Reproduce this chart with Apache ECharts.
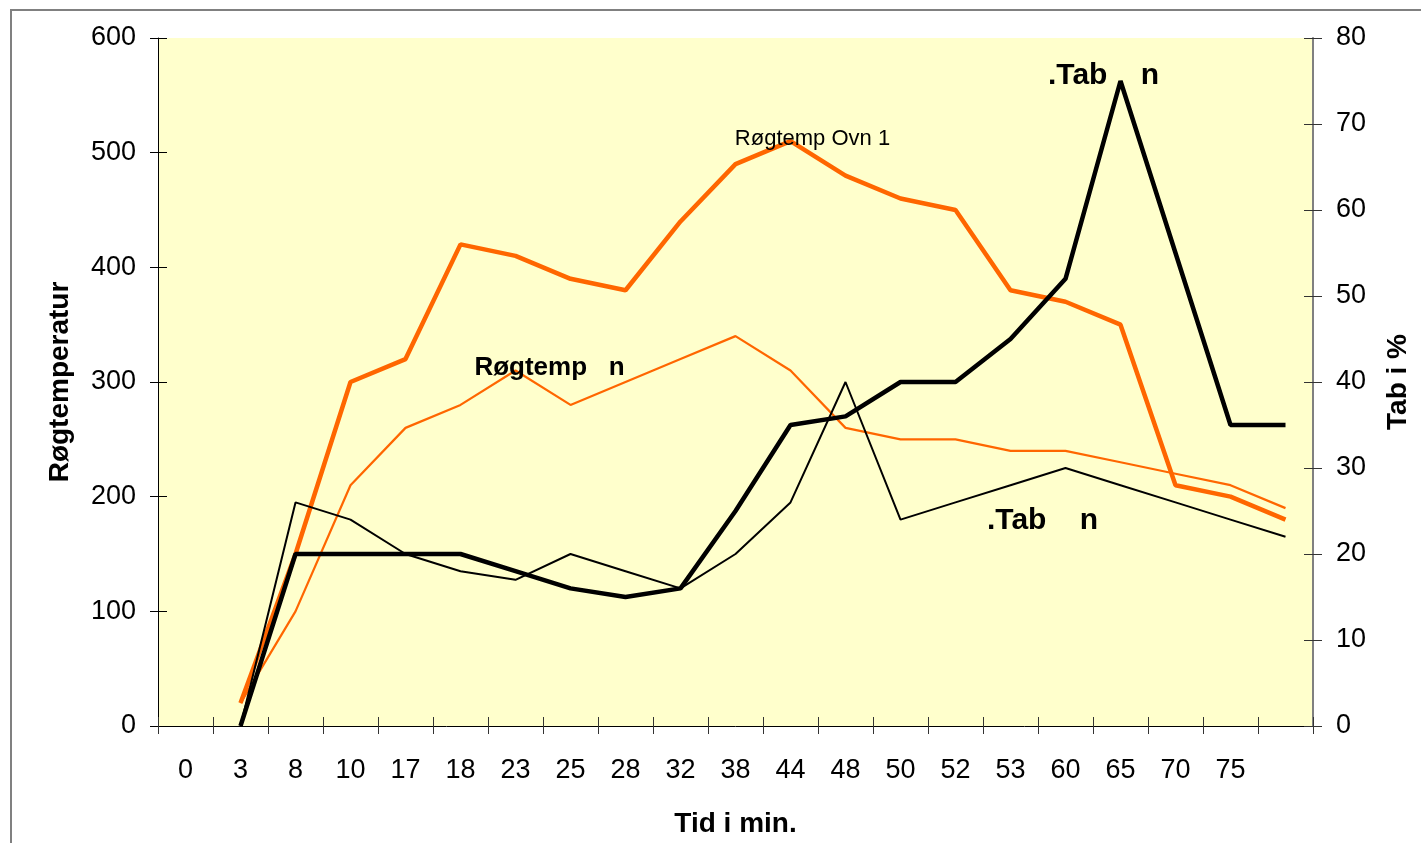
<!DOCTYPE html>
<html>
<head>
<meta charset="utf-8">
<script src="https://cdn.jsdelivr.net/npm/echarts@6/dist/echarts.min.js"></script>
<style>
  html, body { margin: 0; padding: 0; background: #fff; overflow: hidden; }
  #frame { position: absolute; left: 10px; top: 9px; width: 1440px; height: 860px;
           border-left: 2px solid #808080; border-top: 2px solid #808080; }
  #chart { position: absolute; left: 0; top: 0; width: 1421px; height: 843px; }
</style>
</head>
<body>
<div id="frame"></div>
<div id="chart"></div>
<script>
// tid i min. (sidste kategori er uden tekst)
const tider = ['0', '3', '8', '10', '17', '18', '23', '25', '28', '32', '38',
  '44', '48', '50', '52', '53', '60', '65', '70', '75', ''];

// røgtemperatur (venstre akse)
const rogOvn1 = [null, 20, 150, 300, 320, 420, 410, 390, 380, 440, 490,
  510, 480, 460, 450, 380, 370, 350, 210, 200, 180];
const rogOvn2 = [null, 20, 100, 210, 260, 280, 310, 280, 300, 320, 340,
  310, 260, 250, 250, 240, 240, 230, 220, 210, 190];

// tab i % (højre akse)
const tabTyk = [null, 0, 20, 20, 20, 20, 18, 16, 15, 16, 25,
  35, 36, 40, 40, 45, 52, 75, 55, 35, 35];
const tabTynd = [null, 0, 26, 24, 20, 18, 17, 20, 18, 16, 20,
  26, 40, 24, 26, 28, 30, 28, 26, 24, 22];

const venstreTicks = [0, 100, 200, 300, 400, 500, 600];
const hoejreTicks = [0, 10, 20, 30, 40, 50, 60, 70, 80];

const font = 'Liberation Sans, Arial, sans-serif';

// sætter en tekst på ét punkt i serien
function medLabel(values, idx, text, offset, style) {
  return values.map((v, i) => {
    if (i !== idx) return v;
    return {
      value: v,
      label: Object.assign({
        show: true, position: 'inside', formatter: text, offset: offset,
        color: '#000', fontFamily: font
      }, style)
    };
  });
}

const chart = echarts.init(document.getElementById('chart'));

const titel = { fontSize: 28, fontWeight: 'bold', fontFamily: font, color: '#000' };

const option = {
  animation: false,
  backgroundColor: 'transparent',
  textStyle: { fontFamily: font, color: '#000' },
  grid: {
    left: 158, right: 108, top: 38, bottom: 116,
    show: true, backgroundColor: '#FFFFCC', borderWidth: 0
  },
  xAxis: [
    {
      type: 'category', data: tider, boundaryGap: true,
      name: 'Tid i min.', nameLocation: 'middle', nameGap: 84,
      nameTextStyle: titel,
      axisLine: { onZero: false, lineStyle: { color: '#000', width: 1 } },
      axisTick: { show: true, length: 8, lineStyle: { color: '#333' } },
      axisLabel: { fontSize: 27, color: '#000', margin: 31, interval: 0 },
      splitLine: { show: false }
    },
    {
      type: 'category', data: tider, boundaryGap: true, position: 'bottom',
      axisLine: { show: false, onZero: false },
      axisTick: { show: true, inside: true, length: 9, lineStyle: { color: '#333' } },
      axisLabel: { show: false },
      splitLine: { show: false }
    }
  ],
  yAxis: [
    {
      type: 'value', min: 0, max: 600, interval: 100, position: 'left',
      name: 'Røgtemperatur', nameLocation: 'middle', nameGap: 84,
      nameTextStyle: titel,
      axisLine: { show: true, lineStyle: { color: '#000', width: 1 } },
      axisTick: { show: true, length: 8, lineStyle: { color: '#000' } },
      axisLabel: {
        fontSize: 27, color: '#000', margin: 22,
        formatter: v => venstreTicks.includes(v) ? String(v) : ''
      },
      splitLine: { show: false }
    },
    {
      type: 'value', min: 0, max: 80, interval: 10, position: 'right',
      name: 'Tab i %', nameLocation: 'middle', nameGap: 71,
      nameTextStyle: titel,
      axisLine: { show: true, lineStyle: { color: '#808080', width: 2 } },
      axisTick: { show: true, length: 9, lineStyle: { color: '#333' } },
      axisLabel: {
        fontSize: 27, color: '#000', margin: 23,
        formatter: v => hoejreTicks.includes(v) ? String(v) : ''
      },
      splitLine: { show: false }
    },
    {
      type: 'value', min: 0, max: 600, interval: 100, position: 'left',
      axisLine: { show: false },
      axisTick: { show: true, inside: true, length: 9, lineStyle: { color: '#000' } },
      axisLabel: { show: false }, splitLine: { show: false }
    },
    {
      type: 'value', min: 0, max: 80, interval: 10, position: 'right',
      axisLine: { show: false },
      axisTick: { show: true, inside: true, length: 9, lineStyle: { color: '#333' } },
      axisLabel: { show: false }, splitLine: { show: false }
    }
  ],
  series: [
    {
      name: 'Røgtemp Ovn 1', type: 'line', yAxisIndex: 0,
      data: medLabel(rogOvn1, 11, 'Røgtemp Ovn 1', [22, -2], { fontSize: 22 }),
      symbol: 'circle', symbolSize: 0, showSymbol: true, showAllSymbol: true,
      lineStyle: { color: '#FF6600', width: 4.5 }, itemStyle: { color: '#FF6600' }
    },
    {
      name: 'Røgtemp Ovn 2', type: 'line', yAxisIndex: 0,
      data: medLabel(rogOvn2, 6, 'Røgtemp   n', [34, -3], { fontSize: 26, fontWeight: 'bold' }),
      symbol: 'circle', symbolSize: 0, showSymbol: true, showAllSymbol: true,
      lineStyle: { color: '#FF6600', width: 2.2 }, itemStyle: { color: '#FF6600' }
    },
    {
      name: 'Tab Ovn 1', type: 'line', yAxisIndex: 1,
      data: medLabel(tabTyk, 17, '.Tab    n', [-17, -5], { fontSize: 30, fontWeight: 'bold' }),
      symbol: 'circle', symbolSize: 0, showSymbol: true, showAllSymbol: true,
      lineStyle: { color: '#000', width: 4.5 }, itemStyle: { color: '#000' }
    },
    {
      name: 'Tab Ovn 2', type: 'line', yAxisIndex: 1,
      data: medLabel(tabTynd, 15, '.Tab    n', [32, 36], { fontSize: 30, fontWeight: 'bold' }),
      symbol: 'circle', symbolSize: 0, showSymbol: true, showAllSymbol: true,
      lineStyle: { color: '#000', width: 2 }, itemStyle: { color: '#000' }
    }
  ]
};

chart.setOption(option);
</script>
</body>
</html>
